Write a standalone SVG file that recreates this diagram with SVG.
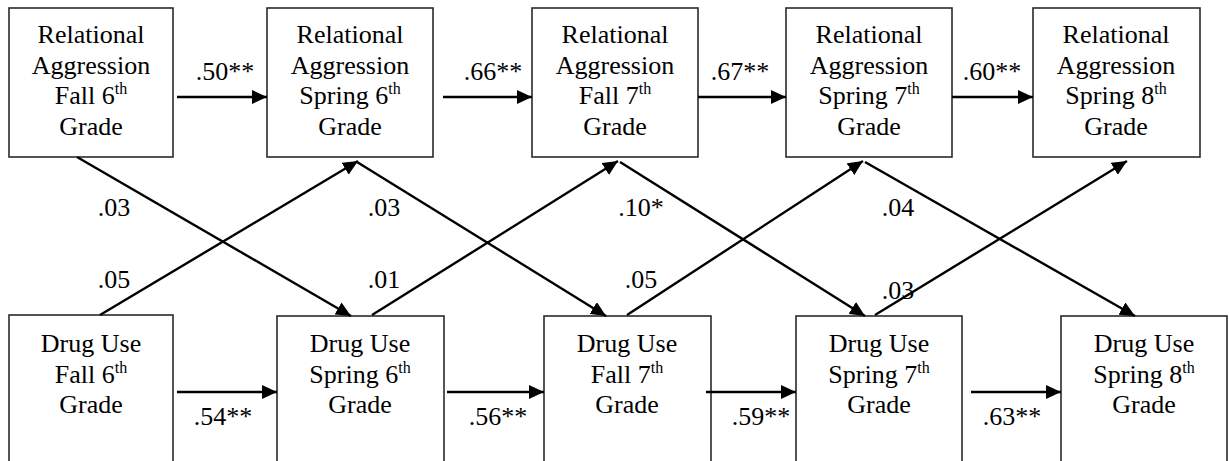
<svg xmlns="http://www.w3.org/2000/svg" width="1229" height="461" viewBox="0 0 1229 461" font-family="Liberation Serif, DejaVu Serif, serif">
  <style>
    .box { fill: #ffffff; stroke: #2a2a2a; stroke-width: 1.6; }
    text { font-size: 26px; fill: #000; text-anchor: middle; }
    .sup { font-size: 16px; }
    .conn { stroke: #000; stroke-width: 2.4; fill: none; marker-end: url(#arrow); }
  </style>
  <defs>
    <marker id="arrow" markerUnits="userSpaceOnUse" markerWidth="16" markerHeight="14" refX="15" refY="7" orient="auto">
      <path d="M0,0 L15,7 L0,14 z" fill="#000"/>
    </marker>
  </defs>
  <rect width="1229" height="461" fill="#ffffff"/>

  <!-- relational aggression row -->
  <g id="ra-fall6">
    <rect class="box" x="9" y="8" width="164" height="149"/>
    <text x="91" y="43">Relational</text>
    <text x="91" y="74">Aggression</text>
    <text x="91" y="104">Fall 6<tspan class="sup" dy="-10">th</tspan></text>
    <text x="91" y="135">Grade</text>
  </g>
  <g id="ra-spring6">
    <rect class="box" x="267" y="8" width="166" height="149"/>
    <text x="350" y="43">Relational</text>
    <text x="350" y="74">Aggression</text>
    <text x="350" y="104">Spring 6<tspan class="sup" dy="-10">th</tspan></text>
    <text x="350" y="135">Grade</text>
  </g>
  <g id="ra-fall7">
    <rect class="box" x="532" y="8" width="166" height="149"/>
    <text x="615" y="43">Relational</text>
    <text x="615" y="74">Aggression</text>
    <text x="615" y="104">Fall 7<tspan class="sup" dy="-10">th</tspan></text>
    <text x="615" y="135">Grade</text>
  </g>
  <g id="ra-spring7">
    <rect class="box" x="786" y="8" width="166" height="149"/>
    <text x="869" y="43">Relational</text>
    <text x="869" y="74">Aggression</text>
    <text x="869" y="104">Spring 7<tspan class="sup" dy="-10">th</tspan></text>
    <text x="869" y="135">Grade</text>
  </g>
  <g id="ra-spring8">
    <rect class="box" x="1033" y="8" width="167" height="149"/>
    <text x="1116" y="43">Relational</text>
    <text x="1116" y="74">Aggression</text>
    <text x="1116" y="104">Spring 8<tspan class="sup" dy="-10">th</tspan></text>
    <text x="1116" y="135">Grade</text>
  </g>

  <!-- drug use row (boxes run past the lower edge) -->
  <g id="du-fall6">
    <rect class="box" x="9" y="315" width="164" height="170"/>
    <text x="91" y="352">Drug Use</text>
    <text x="91" y="383">Fall 6<tspan class="sup" dy="-10">th</tspan></text>
    <text x="91" y="413">Grade</text>
  </g>
  <g id="du-spring6">
    <rect class="box" x="277" y="316" width="167" height="170"/>
    <text x="360" y="352">Drug Use</text>
    <text x="360" y="383">Spring 6<tspan class="sup" dy="-10">th</tspan></text>
    <text x="360" y="413">Grade</text>
  </g>
  <g id="du-fall7">
    <rect class="box" x="544" y="316" width="167" height="170"/>
    <text x="627" y="352">Drug Use</text>
    <text x="627" y="383">Fall 7<tspan class="sup" dy="-10">th</tspan></text>
    <text x="627" y="413">Grade</text>
  </g>
  <g id="du-spring7">
    <rect class="box" x="796" y="316" width="166" height="170"/>
    <text x="879" y="352">Drug Use</text>
    <text x="879" y="383">Spring 7<tspan class="sup" dy="-10">th</tspan></text>
    <text x="879" y="413">Grade</text>
  </g>
  <g id="du-spring8">
    <rect class="box" x="1061" y="316" width="166" height="170"/>
    <text x="1144" y="352">Drug Use</text>
    <text x="1144" y="383">Spring 8<tspan class="sup" dy="-10">th</tspan></text>
    <text x="1144" y="413">Grade</text>
  </g>

  <!-- paths with their coefficients -->
  <g id="connectors">
    <!-- stability paths, relational aggression -->
    <line class="conn" x1="177" y1="97" x2="267" y2="97"/>
    <line class="conn" x1="443" y1="97" x2="532" y2="97"/>
    <line class="conn" x1="698" y1="97" x2="786" y2="97"/>
    <line class="conn" x1="952" y1="97" x2="1033" y2="97"/>
    <!-- stability paths, drug use -->
    <line class="conn" x1="177" y1="392" x2="277" y2="392"/>
    <line class="conn" x1="447" y1="392" x2="544" y2="392"/>
    <line class="conn" x1="706" y1="392" x2="796" y2="392"/>
    <line class="conn" x1="971" y1="392" x2="1061" y2="392"/>
    <!-- cross-lagged paths -->
    <line class="conn" x1="77" y1="157" x2="351" y2="316"/>
    <line class="conn" x1="100" y1="315" x2="358" y2="161"/>
    <line class="conn" x1="357" y1="162" x2="606" y2="316"/>
    <line class="conn" x1="372" y1="315" x2="618" y2="161"/>
    <line class="conn" x1="620" y1="162" x2="865" y2="316"/>
    <line class="conn" x1="627" y1="315" x2="863" y2="161"/>
    <line class="conn" x1="865" y1="162" x2="1135" y2="316"/>
    <line class="conn" x1="875" y1="315" x2="1127" y2="161"/>

    <text x="225" y="80">.50**</text>
    <text x="493" y="80">.66**</text>
    <text x="740" y="80">.67**</text>
    <text x="992" y="80">.60**</text>
    <text x="223" y="425">.54**</text>
    <text x="498" y="425">.56**</text>
    <text x="761" y="425">.59**</text>
    <text x="1012" y="425">.63**</text>

    <text x="114" y="216">.03</text>
    <text x="114" y="288">.05</text>
    <text x="384" y="216">.03</text>
    <text x="384" y="288">.01</text>
    <text x="641" y="216">.10*</text>
    <text x="641" y="288">.05</text>
    <text x="898" y="216">.04</text>
    <text x="898" y="299">.03</text>
  </g>
</svg>
